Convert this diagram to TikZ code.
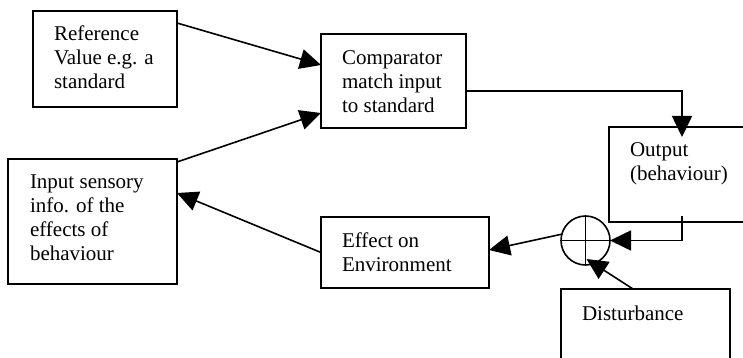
\documentclass[tikz,border=0pt]{standalone}
\usepackage{fontspec}
\setmainfont{Liberation Serif}
\usetikzlibrary{arrows.meta,calc}

\tikzset{
  blk/.style={draw, line width=1.6pt, rectangle, inner sep=0pt, outer sep=0pt, anchor=north west},
  % multi-line labels are anchored on the baseline of their last line (24pt leading)
  lbl/.style={inner sep=0pt, outer sep=0pt, anchor=base west, align=left,
              font=\fontsize{21}{24}\selectfont},
  link/.style={line width=1.6pt, -{Triangle[length=21pt,width=20pt]}},
  wire/.style={line width=1.6pt}
}

\begin{document}
\begin{tikzpicture}[x=1pt, y=-1pt]
  \useasboundingbox (0,0) rectangle (743,358);
  \clip (0,0) rectangle (743,358);

  % blocks (top-left corner, size)
  \node[blk, minimum width=144pt, minimum height=96pt] (ref)  at (33,11)  {};
  \node[blk, minimum width=145pt, minimum height=94pt] (cmp)  at (321,34) {};
  \node[blk, minimum width=169pt, minimum height=125pt] (inp) at (8,159)  {};
  \node[blk, minimum width=168pt, minimum height=71pt] (env)  at (321,217) {};
  \node[blk, minimum width=160pt, minimum height=95pt] (out)  at (609,127) {};
  \node[blk, minimum width=169pt, minimum height=90pt] (dist) at (561,289) {};

  % summing junction
  \node[draw, circle, line width=1.6pt, minimum size=49pt, inner sep=0pt, outer sep=0pt] (sum) at (585.5,240.5) {};
  \draw[wire] (sum.north) -- (sum.south);
  \draw[wire] (sum.west) -- (sum.east);

  % block labels (first baseline about 30pt below the top edge)
  \node[lbl] (reftxt)  at ($(ref.north west)+(21,78)$)  {Reference\\Value e.g. a\\standard};
  \node[lbl] (cmptxt)  at ($(cmp.north west)+(21,79)$)  {Comparator\\match input\\to standard};
  \node[lbl] (inptxt)  at ($(inp.north west)+(22,101)$) {Input sensory\\info. of the\\effects of\\behaviour};
  \node[lbl] (envtxt)  at ($(env.north west)+(21,54)$)  {Effect on\\Environment};
  \node[lbl] (outtxt)  at ($(out.north west)+(21,53)$)  {Output\\(behaviour)};
  \node[lbl] (disttxt) at ($(dist.north west)+(21,31)$) {Disturbance};

  % connectors
  \draw[link] ($(ref.north east)+(0,12)$) -- ($(cmp.north west)+(0,31)$);
  \draw[link] ($(inp.north east)+(0,3)$)  -- ($(cmp.south west)+(0,-15)$);
  \draw[link] ($(cmp.east)+(0,10)$) -| ($(out.north west)+(73,10)$);
  \coordinate (outtap) at ($(out.south west)+(73,-6)$);
  \draw[link] (outtap) |- (sum.east);
  \draw[link] (sum.165) -- ($(env.north east)+(0,33)$);
  \draw[link] (env.west) -- ($(inp.north east)+(0,34)$);
  \draw[link] ($(dist.north west)+(72,0)$) -- ($(sum.south)+(1,-6)$);
\end{tikzpicture}
\end{document}
